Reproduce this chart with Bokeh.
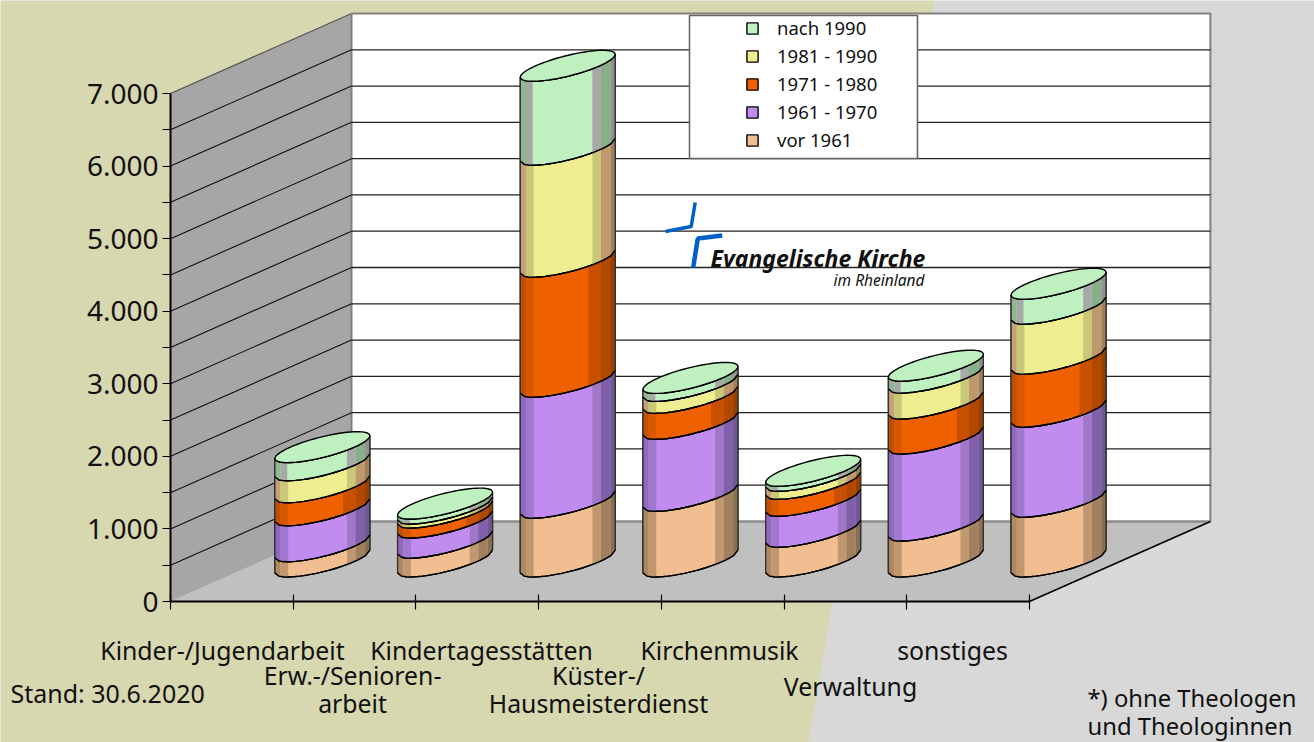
import numpy as np
from bokeh.embed import file_html
from bokeh.resources import INLINE
from bokeh.plotting import figure
from bokeh.models import (FixedTicker, Label, Legend, LegendItem, Range1d, BoxAnnotation)

# ---------- data ----------
categories = ["Kinder-/Jugendarbeit", "Erw.-/Senioren-arbeit", "Kindertagesstätten",
              "Küster-/Hausmeisterdienst", "Kirchenmusik", "Verwaltung", "sonstiges"]
vor_1961   = [210, 260, 810, 905, 410, 495, 825]
s1961_1970 = [496, 276, 1667, 992, 427, 1199, 1240]
s1971_1980 = [317, 138, 1654, 358, 234, 482, 730]
s1981_1990 = [303, 55, 1543, 165, 110, 358, 689]
nach_1990  = [250, 69, 1157, 110, 69, 165, 344]
series_names = ["vor 1961", "1961 - 1970", "1971 - 1980", "1981 - 1990", "nach 1990"]
y_ticks = [0, 500, 1000, 1500, 2000, 2500, 3000, 3500, 4000, 4500, 5000, 5500, 6000, 6500, 7000]
y_tick_labels = {0: "0", 1000: "1.000", 2000: "2.000", 3000: "3.000",
                 4000: "4.000", 5000: "5.000", 6000: "6.000", 7000: "7.000"}
series = [vor_1961, s1961_1970, s1971_1980, s1981_1990, nach_1990]

# ---------- style ----------
main_colors = ["#F0BE90", "#C08CF0", "#EE6000", "#EEEE90", "#BEF0C0"]
bands = [
    [(0, .06, "#b08860"), (.06, .14, "#c09870"), (.76, .85, "#c09870"), (.85, .95, "#a08060"), (.95, 1, "#887050")],
    [(0, .06, "#9068c0"), (.06, .14, "#a078d0"), (.76, .85, "#a078c8"), (.85, .95, "#8060a8"), (.95, 1, "#705890")],
    [(0, .06, "#c05000"), (.06, .14, "#d85800"), (.72, .85, "#c85000"), (.85, .95, "#b04800"), (.95, 1, "#984000")],
    [(0, .06, "#c8a078"), (.06, .14, "#c8c878"), (.76, .85, "#c8c878"), (.85, .95, "#c09870"), (.95, 1, "#a08058")],
    [(0, .06, "#90b890"), (.06, .13, "#a8a8a8"), (.76, .85, "#a8a8a8"), (.85, .95, "#88b088"), (.95, 1, "#909090")],
]
FONT = "Noto Sans"

# ---------- layout: page pixels per unit ----------
W, H = 1314, 742
X0, Y0 = 170, 601          # page pixel of category 0 / value 0
PX_CAT, PX_VAL = 122.7, 72.57 / 1000
DX = 181 / PX_CAT          # depth vector
DY = 80 / PX_VAL
UX, DEPTH_R = 32 / PX_CAT, 35 / 181
VX, VY = DEPTH_R * DX, DEPTH_R * DY
R = np.hypot(UX, VX)
TAU = np.arctan2(VX, UX)


def dx(px):
    return (px - X0) / PX_CAT


def dy(py):
    return (Y0 - py) / PX_VAL


def front(cx, v, f0=0.0, f1=1.0, n=24):
    f = np.linspace(f0, f1, n)
    t = TAU - np.arccos(2 * f - 1)
    return cx + R * (2 * f - 1), v + VY * np.sin(t)


def strip(cx, v0, v1, f0=0.0, f1=1.0):
    xa, ya = front(cx, v0, f0, f1)
    xb, yb = front(cx, v1, f0, f1)
    return list(np.r_[xa, xb[::-1]]), list(np.r_[ya, yb[::-1]])


p = figure(width=W, height=H, output_backend="svg", toolbar_location=None,
           x_range=Range1d(dx(0), dx(W)), y_range=Range1d(dy(H), dy(0)),
           min_border=0, outline_line_color=None, background_fill_color="#D8D8D8",
           border_fill_color="#D8D8D8")
p.grid.visible = False

# two-tone page background
p.patch([dx(0), dx(934), dx(808), dx(0)], [dy(0), dy(0), dy(H), dy(H)],
        fill_color="#D8D8B0", line_color=None)

# y axis
ya = p.yaxis[0]
ya.fixed_location = 0
ya.ticker = FixedTicker(ticks=y_ticks)
ya.major_label_overrides = {t: y_tick_labels.get(t, "") for t in y_ticks}
ya.bounds = (0, 7000)
ya.axis_line_color = "black"; ya.axis_line_width = 2
ya.major_tick_line_color = "black"; ya.major_tick_line_width = 1.2
ya.major_tick_in = 0; ya.major_tick_out = 8
ya.minor_tick_line_color = None
ya.major_label_standoff = 4
ya.major_label_text_font = FONT; ya.major_label_text_font_size = "28px"
ya.major_label_text_color = "#111111"

# x axis
xa = p.xaxis[0]
xa.fixed_location = 0
xa.ticker = FixedTicker(ticks=list(range(len(categories) + 1)))
xa.major_label_overrides = {i: "" for i in range(len(categories) + 1)}
xa.bounds = (0, len(categories))
xa.axis_line_color = "black"; xa.axis_line_width = 2
xa.major_tick_line_color = "black"; xa.major_tick_line_width = 1.2
xa.major_tick_in = 7; xa.major_tick_out = 8
xa.minor_tick_line_color = None

n = len(categories)
top = 7000
# side wall, floor, back wall
p.patch([0, DX, DX, 0], [0, DY, DY + top, top], fill_color="#A6A6A6", line_color=None)
p.line([0, DX], [top, DY + top], line_color="#555555", line_width=1.2)
p.patch([0, DX, DX + n, n], [0, DY, DY, 0], fill_color="#C0C0C0", line_color=None)
p.patch([DX, DX + n, DX + n, DX], [DY, DY, DY + top, DY + top], fill_color="white",
        line_color="#808080", line_width=2)
# grid lines
p.multi_line([[DX, DX + n] for t in y_ticks[1:-1]], [[DY + t, DY + t] for t in y_ticks[1:-1]],
             line_color="#222222", line_width=1.3)
p.multi_line([[0, DX] for t in y_ticks[1:-1]], [[t, DY + t] for t in y_ticks[1:-1]],
             line_color="#111111", line_width=1.1)
p.line([DX, DX + n], [DY, DY], line_color="#909090", line_width=2)
p.line([n, n + DX], [0, DY], line_color="black", line_width=1.6)

# cylinders
legend_renderers = {}
bottoms = np.zeros(n)
edge_x, edge_y = [], []
for s, vals in enumerate(series):
    tops = bottoms + np.array(vals)
    xs, ys = [], []
    for i in range(n):
        cx = i + 0.5 + 0.5 * DX
        a, b = strip(cx, bottoms[i] + 0.5 * DY, tops[i] + 0.5 * DY)
        xs.append(a); ys.append(b)
    r = p.patches(xs, ys, fill_color=main_colors[s], line_color="black", line_width=1.4)
    legend_renderers[series_names[s]] = r
    for f0, f1, col in bands[s]:
        bx, by = [], []
        for i in range(n):
            cx = i + 0.5 + 0.5 * DX
            a, b = strip(cx, bottoms[i] + 0.5 * DY, tops[i] + 0.5 * DY, f0, f1)
            bx.append(a); by.append(b)
        p.patches(bx, by, fill_color=col, line_color=None)
    for i in range(n):
        cx = i + 0.5 + 0.5 * DX
        a, b = front(cx, tops[i] + 0.5 * DY)
        edge_x.append(list(a)); edge_y.append(list(b))
        if s == 0:
            a, b = front(cx, bottoms[i] + 0.5 * DY)
            edge_x.append(list(a)); edge_y.append(list(b))
    bottoms = tops

# outline: sides and edges
side_x, side_y = [], []
for i in range(n):
    cx = i + 0.5 + 0.5 * DX
    for f in (0, 1):
        a, b0 = front(cx, 0.5 * DY, f, f, 1)
        a, b1 = front(cx, bottoms[i] + 0.5 * DY, f, f, 1)
        side_x.append([a[0], a[0]]); side_y.append([b0[0], b1[0]])
p.multi_line(side_x, side_y, line_color="#333333", line_width=1.3)
p.multi_line(edge_x, edge_y, line_color="black", line_width=1.4)

# top discs
tt = np.linspace(0, 2 * np.pi, 72)
p.patches([list(i + 0.5 + 0.5 * DX + UX * np.cos(tt) + VX * np.sin(tt)) for i in range(n)],
          [list(bottoms[i] + 0.5 * DY + VY * np.sin(tt)) for i in range(n)],
          fill_color=main_colors[4], line_color="black", line_width=1.4)

# legend
p.add_layout(BoxAnnotation(left=dx(689), right=dx(917), top=dy(15), bottom=dy(158),
                           fill_color="white", fill_alpha=1, line_color="#666666", line_alpha=1,
                           line_width=1.6, level="annotation"))
legend = Legend(items=[LegendItem(label=nm, renderers=[legend_renderers[nm]]) for nm in series_names[::-1]],
                location=(745, 590), padding=0, margin=0, border_line_color=None,
                background_fill_alpha=0, glyph_width=14, glyph_height=14, label_standoff=18,
                spacing=3, label_height=24, label_text_font=FONT, label_text_font_size="18.5px",
                label_text_color="#111111", label_text_baseline="middle")
legend.level = "overlay"
p.add_layout(legend)

# logo
p.line([dx(694.7), dx(690.7), dx(665)], [dy(202), dy(226), dy(231)], line_color="#0060C8", line_width=3.5)
p.line([dx(721.7), dx(697.3), dx(692.7)], [dy(235), dy(238), dy(267)], line_color="#0060C8", line_width=4.5)


def label(text, px, py, size, align="center", style="normal"):
    p.add_layout(Label(x=dx(px), y=dy(py), text=text, text_align=align, text_baseline="middle",
                       text_font=FONT, text_font_size=f"{size}px", text_font_style=style,
                       text_color="#111111"))


label("Evangelische Kirche", 710, 257, 23, "left", "bold italic")
label("im Rheinland", 924, 279.5, 15.5, "right", "italic")

# category labels (single lines as printed)
label("Kinder-/Jugendarbeit", 222, 649.5, 24.8)
label("Erw.-/Senioren-", 352, 674, 24.8)
label("arbeit", 352, 702.5, 24.8)
label("Kindertagesstätten", 481, 649.5, 24.8)
label("Küster-/", 598, 674, 24.8)
label("Hausmeisterdienst", 598, 702.5, 24.8)
label("Kirchenmusik", 719, 649.5, 24.8)
label("Verwaltung", 850, 685.5, 24.8)
label("sonstiges", 952, 649.5, 24.8)
label("Stand: 30.6.2020", 10, 692, 25, "left")
label("*) ohne Theologen", 1087, 697, 23.8, "left")
label("und Theologinnen", 1087, 725.5, 23.8, "left")

open("out.html", "w").write(file_html(p, INLINE))
